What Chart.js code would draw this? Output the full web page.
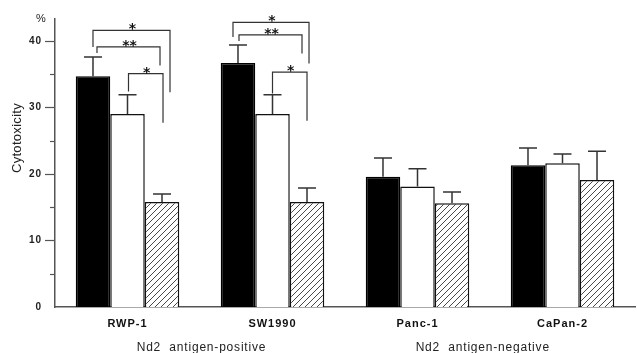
<!DOCTYPE html>
<html>
<head>
<meta charset="utf-8">
<script src="https://cdn.jsdelivr.net/npm/chart.js@4.4.0/dist/chart.umd.min.js"></script>
<style>
  body { margin: 0; background: #fff; }
  canvas { display: block; }
</style>
</head>
<body>
<canvas id="chart" width="637" height="353"></canvas>
<script>
// cell lines and cytotoxicity (%)
const cellLines = ['RWP-1', 'SW1990', 'Panc-1', 'CaPan-2'];
const blackVals = [34.7, 36.7, 19.6, 21.3];
const blackErr  = [2.9, 2.7, 2.8, 2.6];
const whiteVals = [29.0, 29.0, 18.1, 21.6];
const whiteErr  = [2.9, 2.9, 2.7, 1.4];
const hatchVals = [15.8, 15.8, 15.6, 19.1];
const hatchErr  = [1.2, 2.1, 1.7, 4.3];
const yMax = 43.3;
const groupNames = ['Nd2  antigen-positive', 'Nd2  antigen-negative'];
const groupAt = [0.51, 2.45];   // position on the category axis
// significance brackets: [category, from bar, to bar, top, left leg end, right leg end, mark]
const brackets = [
  [0, 0, 2, 41.6, 39.1, 32.3, '*'],
  [0, 0, 2, 39.1, 38.2, 36.3, '**'],
  [0, 1, 2, 35.1, 32.4, 27.7, '*'],
  [1, 0, 2, 42.8, 40.6, 36.6, '*'],
  [1, 0, 2, 40.9, 40.0, 38.1, '**'],
  [1, 1, 2, 35.3, 32.1, 28.0, '*']
];
// small horizontal nudges of the bracket legs (px), as drawn in the original
const legNudge = [[0, 8], [4, -2], [1, 1], [-5, 2], [1, -5], [0, 0]];

function hatchPattern() {
  const c = document.createElement('canvas');
  c.width = 6; c.height = 6;
  const g = c.getContext('2d');
  g.fillStyle = '#fff';
  g.fillRect(0, 0, 6, 6);
  g.strokeStyle = '#333';
  g.lineWidth = 0.9;
  g.beginPath();
  g.moveTo(-1, 7); g.lineTo(7, -1);
  g.moveTo(-4, 4); g.lineTo(4, -4);
  g.moveTo(2, 10); g.lineTo(10, 2);
  g.stroke();
  return g.createPattern(c, 'repeat');
}

const extras = {
  id: 'extras',
  beforeDraw(chart) {
    // the scanned figure uses widely spaced lettering
    chart.ctx.letterSpacing = '1px';
  },
  afterDraw(chart) {
    const { ctx, chartArea, scales: { x, y } } = chart;
    const errs = [blackErr, whiteErr, hatchErr];
    ctx.save();
    ctx.letterSpacing = '0px';

    // error bars
    ctx.strokeStyle = '#333';
    ctx.lineWidth = 1.5;
    chart.data.datasets.forEach((ds, i) => {
      chart.getDatasetMeta(i).data.forEach((bar, j) => {
        const top = y.getPixelForValue(ds.data[j] + errs[i][j]);
        ctx.beginPath();
        ctx.moveTo(bar.x, bar.y);
        ctx.lineTo(bar.x, top);
        ctx.moveTo(bar.x - 9, top);
        ctx.lineTo(bar.x + 9, top);
        ctx.stroke();
      });
    });

    // brackets
    ctx.lineWidth = 1.2;
    ctx.fillStyle = '#111';
    ctx.font = 'bold 14px "DejaVu Sans", sans-serif';
    ctx.textAlign = 'center';
    ctx.textBaseline = 'alphabetic';
    brackets.forEach((b, k) => {
      const [cat, from, to, top, lEnd, rEnd, mark] = b;
      const xl = chart.getDatasetMeta(from).data[cat].x + legNudge[k][0];
      const xr = chart.getDatasetMeta(to).data[cat].x + legNudge[k][1];
      const yt = y.getPixelForValue(top);
      ctx.beginPath();
      ctx.moveTo(xl, y.getPixelForValue(lEnd));
      ctx.lineTo(xl, yt);
      ctx.lineTo(xr, yt);
      ctx.lineTo(xr, y.getPixelForValue(rEnd));
      ctx.stroke();
      ctx.fillText(mark, (xl + xr) / 2 + 1, yt + 3);
    });

    // y tick marks (long at labelled values, short in between)
    ctx.strokeStyle = '#555';
    ctx.lineWidth = 1.2;
    for (let v = 5; v <= 40; v += 5) {
      const py = Math.round(y.getPixelForValue(v)) + 0.5;
      const len = v % 10 === 0 ? 10 : 5;
      ctx.beginPath();
      ctx.moveTo(chartArea.left - len, py);
      ctx.lineTo(chartArea.left, py);
      ctx.stroke();
    }

    // axis unit and title
    ctx.fillStyle = '#222';
    ctx.font = '11px "Liberation Sans", Arial, sans-serif';
    ctx.textBaseline = 'middle';
    ctx.fillText('%', 41, 19);
    ctx.save();
    ctx.font = '13px "Liberation Sans", Arial, sans-serif';
    ctx.letterSpacing = '0.3px';
    ctx.translate(17, 138);
    ctx.rotate(-Math.PI / 2);
    ctx.fillText('Cytotoxicity', 0, 0);
    ctx.restore();

    // antigen group labels
    ctx.font = '12px "Liberation Sans", Arial, sans-serif';
    ctx.letterSpacing = '0.8px';
    groupNames.forEach((name, i) => {
      ctx.fillText(name, x.getPixelForValue(groupAt[i]), 348);
    });
    ctx.restore();
  }
};

new Chart(document.getElementById('chart'), {
  type: 'bar',
  data: {
    labels: cellLines,
    datasets: [
      { data: blackVals, backgroundColor: '#000', borderColor: '#000', borderWidth: 1.5 },
      { data: whiteVals, backgroundColor: '#fff', borderColor: '#111', borderWidth: 1.5 },
      { data: hatchVals, backgroundColor: hatchPattern(), borderColor: '#111', borderWidth: 1.5 }
    ]
  },
  options: {
    responsive: false,
    animation: false,
    layout: { padding: { top: 15, right: 2, left: 0, bottom: 0 } },
    plugins: { legend: { display: false }, tooltip: { enabled: false } },
    datasets: { bar: { categoryPercentage: 0.714, barPercentage: 1 } },
    scales: {
      x: {
        grid: { display: false, drawTicks: false },
        border: { display: true, color: '#555', width: 1.5 },
        ticks: {
          color: '#111',
          padding: 10,
          maxRotation: 0,
          font: { family: '"Liberation Sans", Arial, sans-serif', size: 11, weight: 'bold' }
        },
        afterFit: s => { s.height = 46; }
      },
      y: {
        min: 0,
        max: yMax,
        grid: { display: false, drawTicks: false },
        border: { display: true, color: '#555', width: 1.5 },
        afterBuildTicks: s => { s.ticks = s.ticks.filter(t => t.value % 5 === 0); },
        ticks: {
          stepSize: 5,
          padding: 13,
          color: '#222',
          font: { family: '"Liberation Sans", Arial, sans-serif', size: 10, weight: 'bold' },
          callback: v => (v % 10 === 0 ? v : '')
        },
        afterFit: s => { s.width = 55; }
      }
    }
  },
  plugins: [extras]
});
</script>
</body>
</html>
